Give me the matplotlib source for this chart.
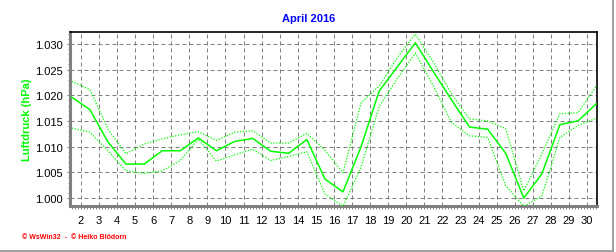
import matplotlib
matplotlib.use("Agg")
import matplotlib.pyplot as plt
from matplotlib.lines import Line2D
from matplotlib.ticker import MultipleLocator

plt.rcParams['font.family'] = ['Liberation Sans', 'DejaVu Sans']

# daily values, plotted at mid-day
days = [d + 0.5 for d in range(1, 31)]
mean_hpa = [1019.6, 1017.2, 1010.9, 1006.6, 1006.6, 1009.2, 1009.2, 1011.7, 1009.2, 1011.0,
            1011.6, 1009.1, 1008.7, 1011.4, 1003.7, 1001.2, 1010.0, 1020.8, 1025.5, 1030.2,
            1024.6, 1019.1, 1013.8, 1013.4, 1008.7, 1000.0, 1004.7, 1014.3, 1015.0, 1018.3]
max_hpa = [1022.7, 1021.1, 1013.4, 1008.6, 1010.5, 1011.5, 1012.3, 1012.9, 1011.2, 1012.8,
           1013.1, 1010.7, 1010.7, 1012.6, 1009.3, 1004.9, 1018.5, 1021.8, 1027.3, 1031.9,
           1026.4, 1020.3, 1015.4, 1015.0, 1013.5, 1001.4, 1008.6, 1016.4, 1016.6, 1021.7]
min_hpa = [1013.6, 1012.8, 1009.2, 1005.3, 1004.8, 1005.3, 1007.3, 1011.5, 1007.2, 1008.4,
           1009.5, 1007.3, 1008.1, 1009.0, 1000.8, 998.4, 1006.0, 1017.8, 1023.2, 1028.2,
           1021.8, 1014.7, 1012.1, 1011.8, 1002.4, 998.4, 1000.4, 1011.8, 1014.1, 1015.5]

x_ticks = list(range(2, 31))
y_ticks = [1000, 1005, 1010, 1015, 1020, 1025, 1030]
y_tick_labels = ["1.000", "1.005", "1.010", "1.015", "1.020", "1.025", "1.030"]

W, H = 616, 253
fig = plt.figure(figsize=(W / 100, H / 100), dpi=100)
ax = fig.add_axes([70 / W, 1 - 207 / H, 527 / W, 174 / H])

green = "#00ff00"
ax.plot(days, mean_hpa, color=green, lw=1.1, zorder=3)
ax.plot(days, max_hpa, color=green, lw=0.9, ls=(0, (1, 1.3)), zorder=3)
ax.plot(days, min_hpa, color=green, lw=0.9, ls=(0, (1, 1.3)), zorder=3)

ax.set_xlim(1.4, 30.55)
ax.set_ylim(998.45, 1032.3)
ax.set_xticks(x_ticks)
ax.set_xticklabels([str(t) for t in x_ticks])
ax.set_yticks(y_ticks)
ax.set_yticklabels(y_tick_labels)
ax.xaxis.set_minor_locator(MultipleLocator(1 / 6))
ax.yaxis.set_minor_locator(MultipleLocator(1))

ax.grid(True, which='major', color='#808080', lw=0.72, ls=(0, (4, 3)), zorder=1)

ax.tick_params(axis='both', which='both', color='#808080', labelsize=8, direction='out')
ax.tick_params(axis='y', which='major', length=2.5, width=0.8, pad=2.5)
ax.tick_params(axis='y', which='minor', length=1.5, width=0.7)
ax.tick_params(axis='x', which='major', length=2.2, width=0.8, pad=4)
ax.tick_params(axis='x', which='minor', length=2.0, width=0.7)

for s in ('left', 'bottom'):
    ax.spines[s].set_color('#808080')
    ax.spines[s].set_linewidth(2.2)
for s in ('top', 'right'):
    ax.spines[s].set_color('black')
    ax.spines[s].set_linewidth(1.2)

fig.text(309 / W, 1 - 19 / H, "April 2016", color='#0000ff', fontsize=8,
         fontweight='bold', ha='center', va='center')
fig.text(27 / W, 1 - 120 / H, "Luftdruck (hPa)", color=green, fontsize=8,
         fontweight='bold', rotation=90, ha='center', va='center')
fig.text(22 / W, 1 - 238 / H, "\u00a9 WsWin32  -  \u00a9 Heiko Bl\u00f6dorn", color='red',
         fontsize=5, fontweight='bold', ha='left', va='center')

# outer frame at the right and bottom edge
fig.add_artist(Line2D([613 / W, 613 / W], [0, 1], transform=fig.transFigure,
                      color='#a0a0a0', lw=1.4))
fig.add_artist(Line2D([0, 613 / W], [1 / H, 1 / H], transform=fig.transFigure,
                      color='#a0a0a0', lw=1.4))

fig.savefig("out.png", dpi=100)
